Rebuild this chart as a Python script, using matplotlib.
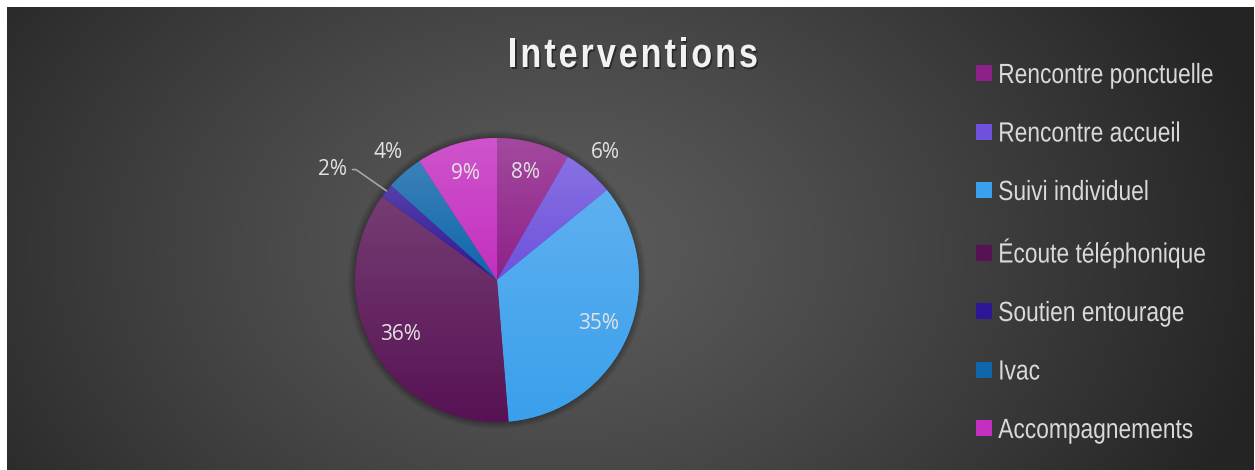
import numpy as np
import matplotlib.pyplot as plt
import matplotlib.colors as mcolors
import matplotlib.patheffects as pe
from matplotlib.lines import Line2D
from matplotlib.patches import Circle
from matplotlib.transforms import Affine2D
from matplotlib.font_manager import FontProperties

categories = ["Rencontre ponctuelle", "Rencontre accueil", "Suivi individuel",
              "Écoute téléphonique", "Soutien entourage", "Ivac", "Accompagnements"]
shares = [8.3, 5.8, 34.6, 36.3, 1.6, 4.2, 9.2]
colors = ["#8e2189", "#6e52dc", "#3a9fec", "#571254", "#2f1696", "#1066aa", "#c42fc0"]
title = "Interventions"

W, H = 1255, 470
SX = 0.82  # horizontal squeeze, stands in for a narrow font


class Narrow(pe.AbstractPathEffect):
    """Draw text squeezed horizontally, optionally with a drop shadow."""

    def __init__(self, sx=SX, shadow=None):
        super().__init__()
        self.sx = sx
        self.shadow = shadow

    def draw_path(self, renderer, gc, tpath, affine, rgbFace=None):
        tr = Affine2D().scale(self.sx, 1) + affine
        if self.shadow is not None:
            dx, dy, col, alpha = self.shadow
            gc0 = renderer.new_gc()
            gc0.copy_properties(gc)
            gc0.set_alpha(alpha)
            gc0.set_linewidth(0)
            renderer.draw_path(gc0, tpath, tr + Affine2D().translate(dx, dy), mcolors.to_rgba(col))
            gc0.restore()
        renderer.draw_path(gc, tpath, tr, rgbFace)


fig = plt.figure(figsize=(W / 100, H / 100), dpi=100, facecolor="white")

# dark radial background
bg = fig.add_axes([7 / W, 0, (1254 - 7) / W, (H - 7) / H])
bg.set_axis_off()
yy, xx = np.mgrid[0:463, 0:1247]
d = np.hypot((xx - 553) / 720, (yy - 243) / 520)
v = (92 - 56 * np.clip(d, 0, 1) ** 1.2) / 255
bg.imshow(np.dstack([v, v, v]), aspect="auto", extent=(0, 1, 0, 1))
bg.set_xlim(0, 1)
bg.set_ylim(0, 1)

# pie
R = 150 / 142
ax = fig.add_axes([347 / W, 40 / H, 300 / W, 300 / H])
lab_font = dict(color="#e2e2e2", fontsize=15, family=["Open Sans", "DejaVu Sans"])
wedges, texts, autotexts = ax.pie(
    shares, colors=colors, startangle=90, counterclock=False,
    autopct=lambda p: f"{p:.0f}%", pctdistance=0.78,
    textprops=lab_font, wedgeprops=dict(linewidth=0))

# soft shadow around the pie
for r in np.linspace(1.005, 1.05, 8):
    ax.add_patch(Circle((0, 0), r, color="black", alpha=0.035, zorder=0, lw=0))

# vertical gradient on each slice
for w, c in zip(wedges, colors):
    x0, y0, x1, y1 = w.get_path().get_extents().extents
    base = np.array(mcolors.to_rgb(c))
    top = base + (1 - base) * 0.18
    t = np.linspace(0, 1, 256)[:, None, None]
    img = top * (1 - t) + base * t
    im = ax.imshow(img, extent=(x0, x1, y0, y1), aspect="auto",
                   interpolation="bilinear", zorder=1.5)
    im.set_clip_path(w)

# move small labels outside
for i, (w, at) in enumerate(zip(wedges, autotexts)):
    a = np.deg2rad((w.theta1 + w.theta2) / 2)
    if shares[i] < 3:
        at.set_visible(False)
        ax.annotate(at.get_text(), xy=(np.cos(a), np.sin(a)),
                    xytext=(np.cos(a) - 0.38, np.sin(a) + 0.15),
                    ha="center", va="center", **lab_font,
                    arrowprops=dict(arrowstyle="-", color="#a6a6a6", lw=1.2,
                                    shrinkA=2, shrinkB=0,
                                    connectionstyle="angle,angleA=0,angleB=-35,rad=0"))
    elif shares[i] < 7:
        at.set_position((1.18 * np.cos(a), 1.18 * np.sin(a)))

ax.set_xlim(-R, R)
ax.set_ylim(-R, R)
ax.set_aspect("auto")
ax.set_axis_off()

# legend
handles = [Line2D([], [], marker="s", linestyle="none", markersize=11,
                  markerfacecolor=c, markeredgewidth=0) for c in colors]
leg = fig.legend(handles, categories, loc="upper left", bbox_to_anchor=(976 / W, (H - 63) / H),
                 frameon=False, labelcolor="#d9d9d9",
                 prop=FontProperties(family="Liberation Sans", size=20),
                 handlelength=0.6, handletextpad=0.2, labelspacing=1.17,
                 borderaxespad=0, borderpad=0)
for t in leg.get_texts():
    t.set_path_effects([Narrow()])

# title with letter spacing and shadow
fp = FontProperties(family="Liberation Sans", weight="bold", size=30)
renderer = fig.canvas.get_renderer()
objs, widths = [], []
for ch in title:
    t = fig.text(0, 0, ch, fontproperties=fp, color="#f2f2f2", va="baseline",
                 path_effects=[Narrow(shadow=(1.5, -2, "black", 0.45))])
    widths.append(t.get_window_extent(renderer).width * SX)
    objs.append(t)
gap = (250 - sum(widths)) / (len(title) - 1)
x = 508
for t, w in zip(objs, widths):
    t.set_position((x / W, (H - 67) / H))
    x += w + gap

fig.savefig("out.png", dpi=100, facecolor="white")
